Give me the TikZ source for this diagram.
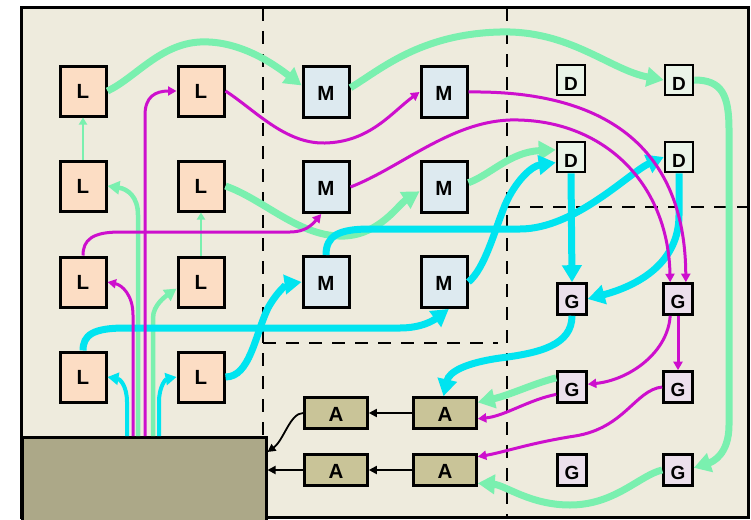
\documentclass[tikz,border=0pt]{standalone}
\usepackage{fontspec}
\setmainfont{Liberation Sans}
\usetikzlibrary{arrows.meta,calc}

\definecolor{paper}{RGB}{238,235,221}
\definecolor{mint}{RGB}{122,240,175}
\definecolor{aqua}{RGB}{0,228,240}
\definecolor{plum}{RGB}{205,15,205}
\definecolor{peach}{RGB}{252,221,196}
\definecolor{ice}{RGB}{221,234,240}
\definecolor{dfill}{RGB}{234,244,232}
\definecolor{gfill}{RGB}{236,224,236}
\definecolor{afill}{RGB}{201,196,152}
\definecolor{basefill}{RGB}{172,168,136}

% letter sitting low inside the small boxes
\newcommand\lowtxt[2]{\raisebox{-#1}[\height][0pt]{#2}}

\begin{document}
\begin{tikzpicture}[x=1pt,y=-1pt,
  blk/.style={draw=black, line width=3pt, inner sep=0pt,
    font=\fontsize{20.5}{20.5}\selectfont\bfseries},
  small/.style={font=\fontsize{19}{19}\selectfont\bfseries},
  lbox/.style={blk, fill=peach, minimum width=46pt, minimum height=50pt},
  mbox/.style={blk, fill=ice, minimum width=46pt, minimum height=51pt},
  dbox/.style={blk, small, fill=dfill, minimum width=28pt, minimum height=30pt, line width=2.6pt},
  gbox/.style={blk, small, fill=gfill, minimum width=29pt, minimum height=31pt, line width=2.6pt},
  abox/.style={blk, fill=afill, minimum width=63pt, minimum height=31pt, line width=2.6pt},
  divider/.style={line width=2.8pt, dash pattern=on 13pt off 10pt},
  gflow/.style={draw=mint, line width=7pt, -{Triangle[length=17pt,width=19pt]}},
  gmid/.style={draw=mint, line width=4.5pt, -{Triangle[length=12pt,width=13pt]}},
  gthin/.style={draw=mint, line width=2.5pt, -{Triangle[length=7pt,width=8pt]}},
  cflow/.style={draw=aqua, line width=7pt, -{Triangle[length=17pt,width=19pt]}},
  cmid/.style={draw=aqua, line width=4pt, -{Triangle[length=11pt,width=12pt]}},
  mflow/.style={draw=plum, line width=3pt, -{Triangle[length=8.5pt,width=9pt]}},
  kflow/.style={draw=black, line width=1.8pt, -{Triangle[length=8pt,width=8pt]}},
]
\useasboundingbox (0,0) rectangle (751,519);
\fill[white] (0,0) rectangle (751,519);

% frame and zone dividers
\draw[line width=3pt, fill=paper] (21,8) rectangle (748,517);
\draw[divider] (263,8) -- (263,517);
\draw[divider] (507,8) -- (507,517);
\draw[divider] (263,343) -- (498,343);
\draw[divider] (507,207) -- (748,207);

% base block
\node[draw=black, line width=2.5pt, fill=basefill, inner sep=0pt, anchor=north west,
      minimum width=244pt, minimum height=85pt] (base) at (21,436) {};

% L column pairs
\node[lbox] (L11) at (83,91) {L};
\node[lbox] (L12) at (201,91) {L};
\node[lbox] (L21) at (83,186) {L};
\node[lbox] (L22) at (201,186) {L};
\node[lbox] (L31) at (83,282) {L};
\node[lbox] (L32) at (201,282) {L};
\node[lbox] (L41) at (83,377) {L};
\node[lbox] (L42) at (201,377) {L};

% M blocks
\node[mbox] (M11) at (326,92) {\lowtxt{1.5pt}{M}};
\node[mbox] (M12) at (444,92) {\lowtxt{1.5pt}{M}};
\node[mbox] (M21) at (326,187) {\lowtxt{1.5pt}{M}};
\node[mbox] (M22) at (444,187) {\lowtxt{1.5pt}{M}};
\node[mbox] (M31) at (326,282) {\lowtxt{1.5pt}{M}};
\node[mbox] (M32) at (444,282) {\lowtxt{1.5pt}{M}};

% D blocks
\node[dbox] (D11) at (571,80) {\lowtxt{4pt}{D}};
\node[dbox] (D12) at (679,80) {\lowtxt{4pt}{D}};
\node[dbox] (D21) at (571,157) {\lowtxt{4pt}{D}};
\node[dbox] (D22) at (679,157) {\lowtxt{4pt}{D}};

% G blocks
\node[gbox] (G11) at (572,299) {\lowtxt{3pt}{G}};
\node[gbox] (G12) at (678,299) {\lowtxt{3pt}{G}};
\node[gbox] (G21) at (572,387) {\lowtxt{3pt}{G}};
\node[gbox] (G22) at (678,387) {\lowtxt{3pt}{G}};
\node[gbox] (G31) at (572,470) {\lowtxt{3pt}{G}};
\node[gbox] (G32) at (678,470) {\lowtxt{3pt}{G}};

% A blocks
\node[abox] (A11) at (336,413) {\lowtxt{1.5pt}{A}};
\node[abox] (A12) at (445,413) {\lowtxt{1.5pt}{A}};
\node[abox] (A21) at (336,470) {\lowtxt{1.5pt}{A}};
\node[abox] (A22) at (445,470) {\lowtxt{1.5pt}{A}};

% green flows
\draw[gthin] (L21.north) -- (L11.south);
\draw[gthin] (L32.north) -- (L22.south);
\draw[gmid] (138,0 |- base.north) -- (138,215) .. controls (138,197) and (128,189) .. (L21.east);
\draw[gmid] (153,0 |- base.north) -- (153,318) .. controls (153,305) and (166,296) .. (L32.195);
\draw[gflow] (L11.east) .. controls (135,78) and (160,44) .. (200,42) .. controls (240,40) and (275,65) .. (M11.165);
\draw[gflow] (M11.10) .. controls (380,70) and (420,34) .. (500,32) .. controls (570,30) and (610,70) .. (D12.west);
\draw[gflow] (D12.east) .. controls (722,80) and (729,95) .. (729,130) -- (729,425) .. controls (729,455) and (712,462) .. (G32.8);
\draw[gflow] (G32.west) .. controls (640,475) and (615,505) .. (570,505) .. controls (530,505) and (505,485) .. (A22.-22);
\draw[gflow] (G21.150) .. controls (535,383) and (510,395) .. (A12.18);
\draw[gflow] (L22.east) .. controls (265,200) and (300,238) .. (345,236) .. controls (380,234) and (398,205) .. (M22.190);
\draw[gflow] (M22.10) .. controls (490,175) and (510,152) .. (D21.155);

% cyan flows
\draw[cmid] (127,0 |- base.north) -- (127,402) .. controls (127,386) and (120,379) .. (L41.east);
\draw[cmid] (159,0 |- base.north) -- (159,402) .. controls (159,386) and (166,379) .. (L42.west);
\draw[cflow] (L41.north) .. controls (83,335) and (93,328) .. (125,328) -- (400,328) .. controls (422,328) and (434,320) .. (M32.-80);
\draw[cflow] (L42.east) .. controls (250,377) and (255,335) .. (268,308) .. controls (278,290) and (288,284) .. (M31.west);
\draw[cflow] (M31.north) .. controls (326,236) and (338,229) .. (370,229) -- (520,229) .. controls (575,229) and (630,172) .. (D22.west);
\draw[cflow] (M32.east) .. controls (485,268) and (494,232) .. (505,205) .. controls (516,180) and (532,166) .. (D21.200);
\draw[cflow] (D21.south) -- (G11.north);
\draw[cflow] (D22.south) -- (679,215) .. controls (679,262) and (640,285) .. (G11.east);
\draw[cflow] (G11.south) .. controls (572,345) and (540,353) .. (500,358) .. controls (465,363) and (449,372) .. (A12.95);

% magenta flows
\draw[mflow] (145,0 |- base.north) -- (145,115) .. controls (145,97) and (155,91) .. (L12.west);
\draw[mflow] (133,0 |- base.north) -- (133,315) .. controls (133,295) and (122,285) .. (L31.east);
\draw[mflow] (L31.north) .. controls (83,240) and (92,232) .. (120,232) -- (290,232) .. controls (305,232) and (312,225) .. (M21.-100);
\draw[mflow] (L12.east) .. controls (255,110) and (285,144) .. (325,143) .. controls (370,142) and (392,112) .. (M12.west);
\draw[mflow] (M12.east) .. controls (620,90) and (685,160) .. (G12.65);
\draw[mflow] (M21.east) .. controls (400,168) and (450,122) .. (510,120) .. controls (600,118) and (668,180) .. (G12.115);
\draw[mflow] (G12.south) -- (G22.north);
\draw[mflow] (G12.-115) .. controls (668,352) and (630,380) .. (G21.10);
\draw[mflow] (G21.205) .. controls (528,400) and (505,416) .. (A12.-10);
\draw[mflow] (G22.west) .. controls (635,390) and (625,428) .. (575,436) .. controls (530,443) and (505,452) .. (A22.22);

% black hand-offs to the base
\draw[kflow] (A12.west) -- (A11.east);
\draw[kflow] (A22.west) -- (A21.east);
\draw[kflow] (A21.west) -- (A21.west -| base.east);
\draw[kflow] (A11.west) .. controls (290,413) and (284,440) .. ($(base.north east)+(0,16)$);
\end{tikzpicture}
\end{document}
